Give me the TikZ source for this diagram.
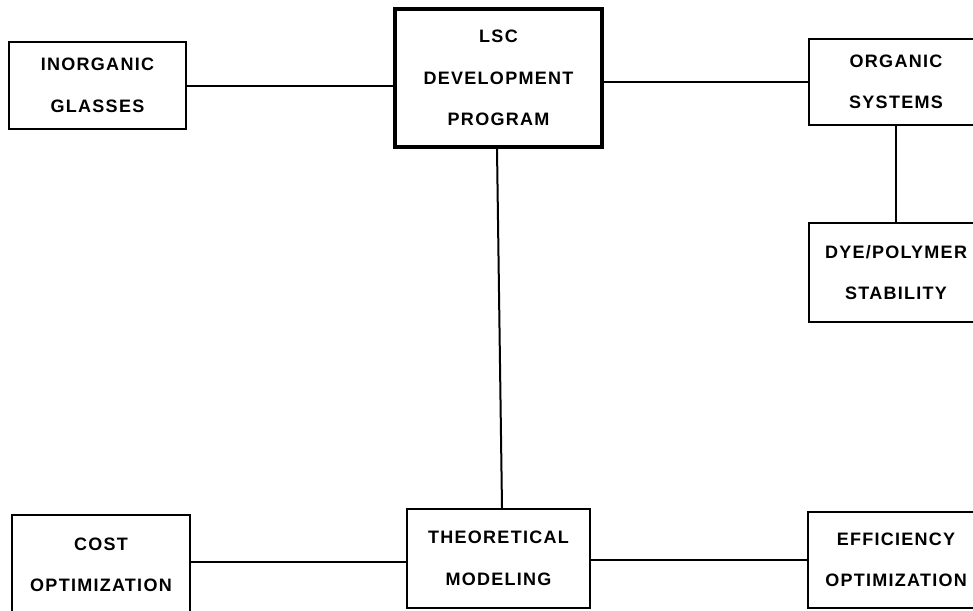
\documentclass[tikz,border=0pt]{standalone}
\usepackage{fontspec}
\newfontfamily\boxfont{Liberation Sans}[LetterSpace=7]
\begin{document}
\begin{tikzpicture}[x=1pt,y=-1pt,
  box/.style={draw, line width=2pt, inner sep=0pt, align=center,
    font=\boxfont\bfseries\fontsize{18}{41.5}\selectfont},
  link/.style={line width=2pt}]
\useasboundingbox[fill=white] (0,0) rectangle (973,610);
\node[box, minimum width=177pt, minimum height=87pt] (inorg) at (97.5,85.5) {INORGANIC\\GLASSES};
\node[box, line width=3.5pt, minimum width=207pt, minimum height=138pt] (lsc) at (498.5,78) {LSC\\DEVELOPMENT\\PROGRAM};
\node[box, minimum width=174pt, minimum height=86pt] (org) at (896,82) {ORGANIC\\SYSTEMS};
\node[box, minimum width=174pt, minimum height=99pt] (dye) at (896,272.5) {DYE/POLYMER\\STABILITY};
\node[box, minimum width=178pt, minimum height=100pt] (cost) at (101,565) {COST\\OPTIMIZATION};
\node[box, minimum width=183pt, minimum height=99pt] (theo) at (498.5,558.5) {THEORETICAL\\MODELING};
\node[box, minimum width=176pt, minimum height=96pt] (eff) at (896,560) {EFFICIENCY\\OPTIMIZATION};
\draw[link] (inorg.east) -- (inorg.east -| lsc.west);
\draw[link] (org.west) -- (org.west -| lsc.east);
\draw[link] (org.south) -- (dye.north);
\draw[link] ([xshift=-1.5pt]lsc.south) -- ([xshift=3.5pt]theo.north);
\draw[link] ([yshift=-3.5pt]theo.west) -- ([yshift=-3.5pt]theo.west -| cost.east);
\draw[link] (eff.west) -- (eff.west -| theo.east);
\end{tikzpicture}
\end{document}
